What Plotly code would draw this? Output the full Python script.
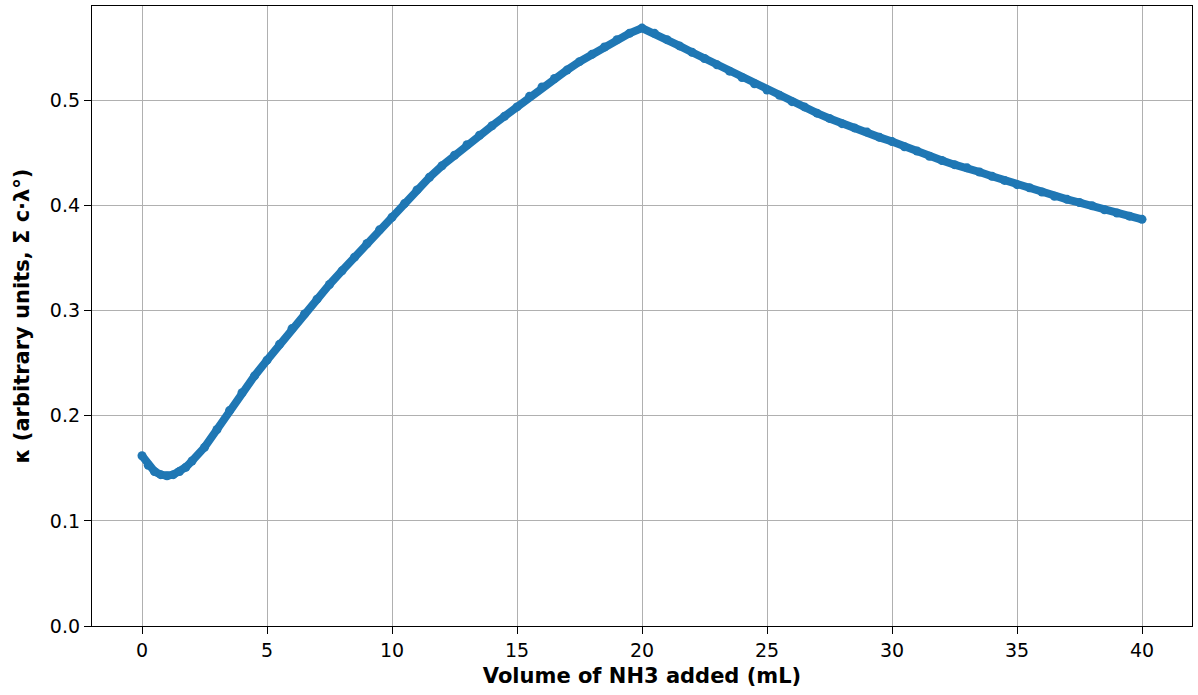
import plotly.graph_objects as go

# Volume of NH3 added (mL)
volume_ml = [0.0, 0.25, 0.5, 0.75, 1.0, 1.25, 1.5, 1.75, 2.0, 2.5, 3.0, 3.5, 4.0, 4.5,
             5.0, 5.5, 6.0, 6.5, 7.0, 7.5, 8.0, 8.5, 9.0, 9.5, 10.0, 10.5, 11.0, 11.5,
             12.0, 12.5, 13.0, 13.5, 14.0, 14.5, 15.0, 15.5, 16.0, 16.5, 17.0, 17.5,
             18.0, 18.5, 19.0, 19.5, 20.0, 20.5, 21.0, 21.5, 22.0, 22.5, 23.0, 23.5,
             24.0, 24.5, 25.0, 25.5, 26.0, 26.5, 27.0, 27.5, 28.0, 28.5, 29.0, 29.5,
             30.0, 30.5, 31.0, 31.5, 32.0, 32.5, 33.0, 33.5, 34.0, 34.5, 35.0, 35.5,
             36.0, 36.5, 37.0, 37.5, 38.0, 38.5, 39.0, 39.5, 40.0]

# Conductivity kappa (arbitrary units)
kappa = [0.162, 0.153, 0.147, 0.144, 0.143, 0.144, 0.147, 0.151, 0.157, 0.170, 0.187, 0.205, 0.222, 0.238,
         0.253, 0.268, 0.283, 0.297, 0.311, 0.325, 0.338, 0.351, 0.364, 0.377, 0.389, 0.402, 0.415, 0.427,
         0.438, 0.448, 0.458, 0.467, 0.476, 0.485, 0.494, 0.504, 0.513, 0.521, 0.529, 0.537,
         0.544, 0.551, 0.558, 0.564, 0.569, 0.564, 0.558, 0.552, 0.546, 0.540, 0.534, 0.528,
         0.522, 0.516, 0.510, 0.505, 0.499, 0.494, 0.488, 0.483, 0.478, 0.474, 0.470, 0.465,
         0.461, 0.456, 0.452, 0.447, 0.443, 0.439, 0.436, 0.432, 0.428, 0.424, 0.420, 0.417,
         0.413, 0.409, 0.406, 0.403, 0.400, 0.396, 0.393, 0.390, 0.387]

x_ticks = [0, 5, 10, 15, 20, 25, 30, 35, 40]
y_ticks = [0.0, 0.1, 0.2, 0.3, 0.4, 0.5]

fig = go.Figure()
fig.add_trace(go.Scatter(
    x=volume_ml, y=kappa, mode="lines+markers",
    line=dict(color="#1f77b4", width=8),
    marker=dict(color="#1f77b4", size=9),
    showlegend=False,
))

font = dict(family="DejaVu Sans", size=19, color="black")
title_font = dict(family="DejaVu Sans", size=21, color="black")
fig.update_layout(
    width=1198, height=695,
    margin=dict(l=92, r=6, t=6, b=69),
    paper_bgcolor="white", plot_bgcolor="white",
    font=font,
    xaxis=dict(
        range=[-2, 42], tickvals=x_ticks, ticktext=[str(v) for v in x_ticks],
        showgrid=True, gridcolor="#b0b0b0", gridwidth=1.3,
        showline=True, linecolor="black", linewidth=1.3, mirror=True,
        ticks="outside", ticklen=7, tickwidth=1.3, tickcolor="black", zeroline=False,
        title=dict(text="<b>Volume of NH3 added (mL)</b>", font=title_font, standoff=8),
    ),
    yaxis=dict(
        range=[0, 0.59], tickvals=y_ticks, ticktext=[f"{v:.1f}" for v in y_ticks],
        showgrid=True, gridcolor="#b0b0b0", gridwidth=1.3,
        showline=True, linecolor="black", linewidth=1.3, mirror=True,
        ticks="outside", ticklen=7, tickwidth=1.3, tickcolor="black", zeroline=False,
        title=dict(text="<b>κ (arbitrary units, Σ c·λ°)</b>", font=title_font, standoff=14),
    ),
)

fig.write_html("out.html", config={"displayModeBar": False},
               post_script="document.body.style.margin='0';")
